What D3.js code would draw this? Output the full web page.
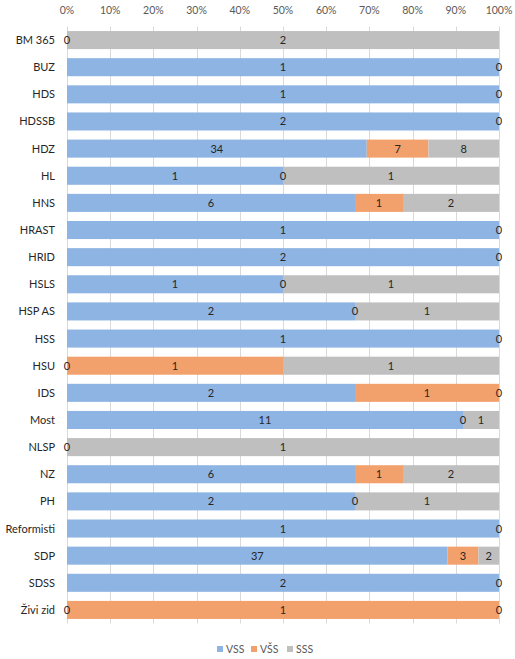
<!DOCTYPE html>
<html><head><meta charset="utf-8">
<script src="https://cdn.jsdelivr.net/npm/d3@7"></script>
<style>body{margin:0;background:#fff}svg{display:block}text{font-family:Lato,"Open Sans",sans-serif}</style>
</head><body><svg id="c" width="515" height="659"></svg>
<script>
const categories = ["BM 365","BUZ","HDS","HDSSB","HDZ","HL","HNS","HRAST","HRID","HSLS","HSP AS","HSS","HSU","IDS","Most","NLSP","NZ","PH","Reformisti","SDP","SDSS","Živi zid"];
const seriesNames = ["VSS","VŠS","SSS"];
const vss = [0,1,1,2,34,1,6,1,2,1,2,1,0,2,11,0,6,2,1,37,2,0];
const vssTwo = [null,null,null,null,7,0,1,null,null,0,0,null,1,1,0,null,1,0,null,3,null,1];
const sss = [2,0,0,0,8,1,2,0,0,1,1,0,1,0,1,1,2,1,0,2,0,0];
const tickLabels = ["0%","10%","20%","30%","40%","50%","60%","70%","80%","90%","100%"];
const colors = ["#8DB4E2","#F2A16D","#BFBFBF"];

const rows = categories.map((c,i)=>({cat:c, VSS:vss[i], "VŠS":vssTwo[i], SSS:sss[i]}));
const svg = d3.select("#c");
const x = d3.scaleLinear().domain([0,1]).range([67,499]);
const y = d3.scaleBand().domain(categories).range([26.5,623.5]).paddingInner(0.335).paddingOuter(0.1675);

// gridlines
svg.append("g").selectAll("line").data(d3.range(0,1.0001,0.1)).join("line")
  .attr("x1",d=>Math.round(x(d))+0.5).attr("x2",d=>Math.round(x(d))+0.5)
  .attr("y1",26.5).attr("y2",623.5).attr("stroke","#D9D9D9").attr("stroke-width",1);

// top axis labels
svg.append("g").selectAll("text").data(tickLabels).join("text")
  .attr("x",(d,i)=>x(i/10)).attr("y",14).attr("text-anchor","middle")
  .attr("font-size",10.5).attr("fill","#595959").text(d=>d);

const stack = d3.stack().keys(seriesNames).value((d,k)=>d[k]==null?0:d[k]).offset(d3.stackOffsetExpand);
const layers = stack(rows);

layers.forEach((layer,si)=>{
  svg.append("g").selectAll("rect").data(layer).join("rect")
    .attr("x",d=>x(d[0])).attr("width",d=>Math.max(0,x(d[1])-x(d[0])))
    .attr("y",d=>y(d.data.cat)).attr("height",y.bandwidth())
    .attr("fill",colors[si]);
});
layers.forEach((layer,si)=>{
  const key = seriesNames[si];
  svg.append("g").selectAll("text").data(layer.filter(d=>d.data[key]!=null)).join("text")
    .attr("x",d=>x((d[0]+d[1])/2)).attr("y",d=>y(d.data.cat)+y.bandwidth()/2+4)
    .attr("text-anchor","middle").attr("font-size",11).attr("fill","#262626")
    .text(d=>d.data[key]);
});

// category labels
svg.append("g").selectAll("text").data(categories).join("text")
  .attr("x",55).attr("y",d=>y(d)+y.bandwidth()/2+4).attr("text-anchor","end")
  .attr("font-size",11).attr("fill","#262626").text(d=>d);

// legend
const legX = [217,251,287];
const lg = svg.append("g");
seriesNames.forEach((s,i)=>{
  lg.append("rect").attr("x",legX[i]).attr("y",646).attr("width",6).attr("height",6).attr("fill",colors[i]);
  lg.append("text").attr("x",legX[i]+9).attr("y",653).attr("font-size",10.5).attr("fill","#595959").text(s);
});
</script></body></html>
